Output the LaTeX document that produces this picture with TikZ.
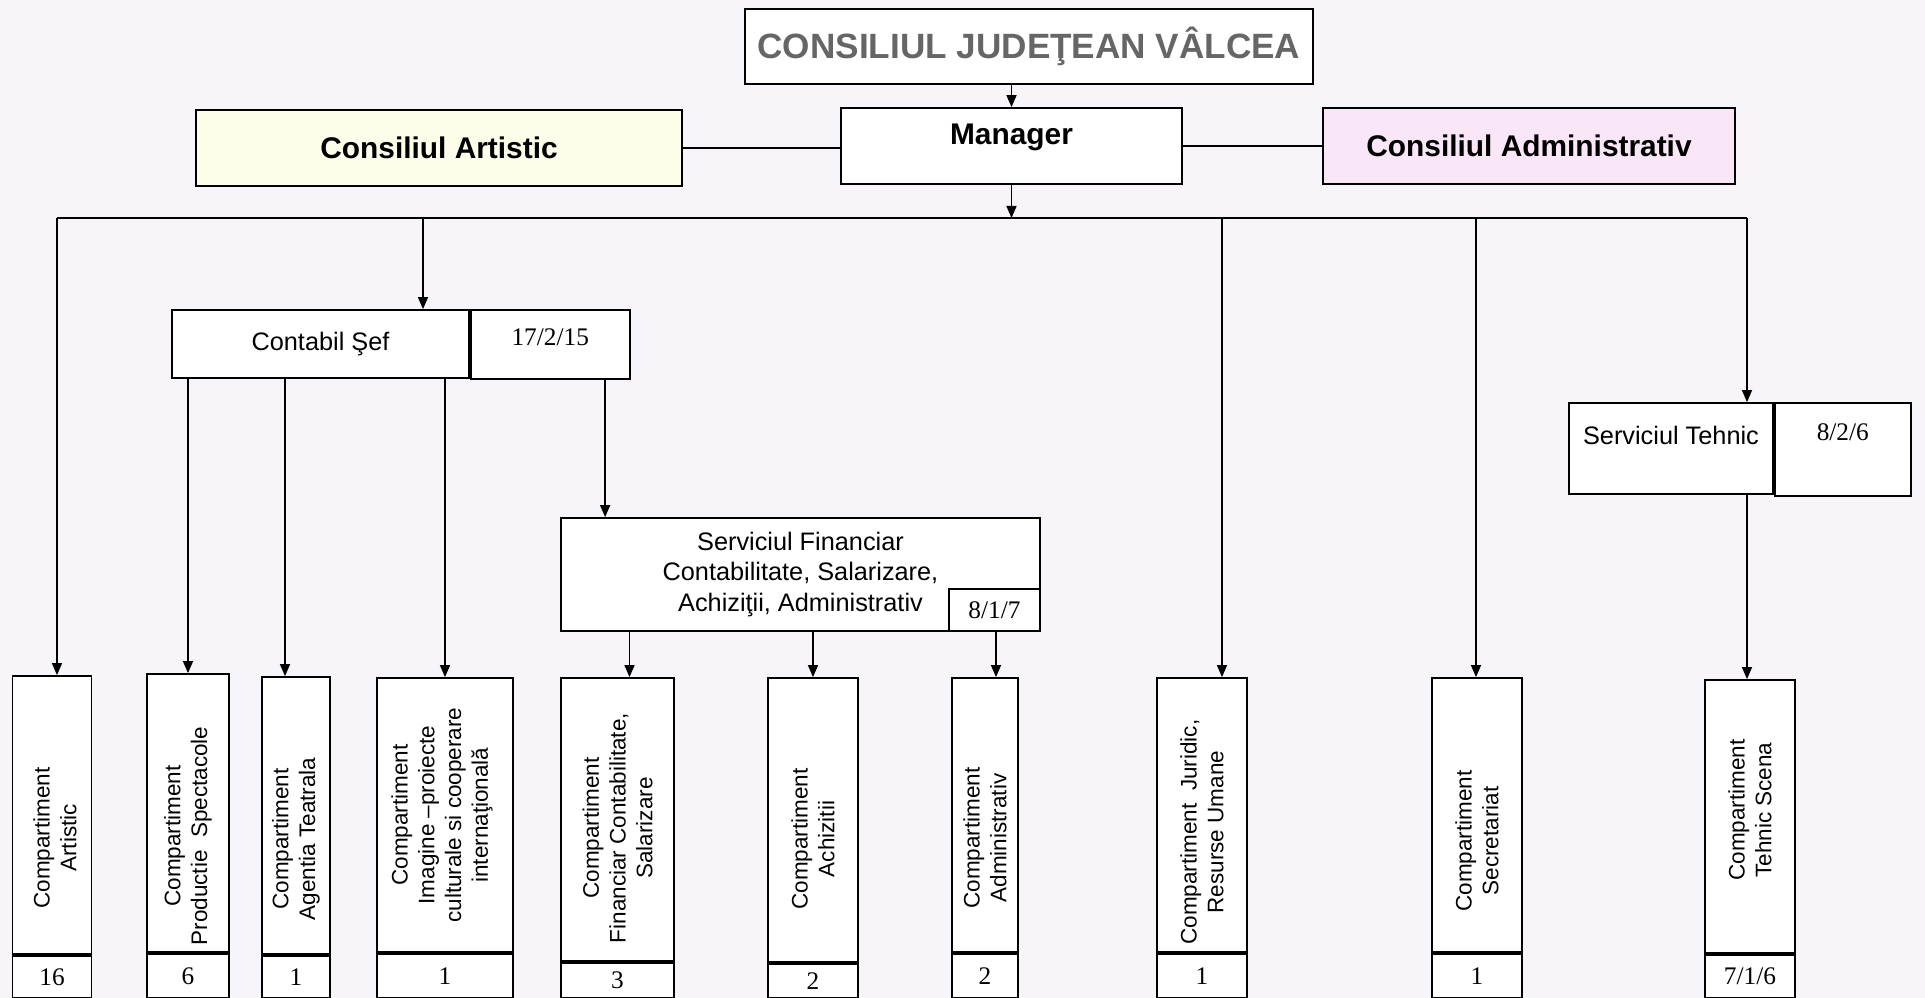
\documentclass[tikz,border=0pt]{standalone}
\usepackage{fontspec}
\setmainfont{Liberation Serif}
\setsansfont{Liberation Sans}
\usetikzlibrary{arrows.meta}

\definecolor{bgcol}{RGB}{248,245,250}
\definecolor{artcol}{RGB}{253,253,234}
\definecolor{admcol}{RGB}{249,230,247}

\begin{document}
\begin{tikzpicture}[x=0.1mm, y=-0.1mm,
  box/.style={draw, line width=0.5pt, fill=white, inner sep=0pt, align=center, font=\sffamily\fontsize{7.2}{8.7}\selectfont},
  head/.style={box, font=\sffamily\bfseries\fontsize{8.5}{10}\selectfont},
  num/.style={box, font=\rmfamily\fontsize{7.2}{8.7}\selectfont},
  toplbl/.style={anchor=north, inner sep=0pt, font=\rmfamily\fontsize{7.2}{8.7}\selectfont},
  vtext/.style={rotate=90, align=center, inner sep=0pt, font=\sffamily\fontsize{6.4}{7.6}\selectfont},
  arr/.style={line width=0.4pt, -{Triangle[length=1.2mm, width=1mm]}},
  conn/.style={line width=0.4pt}]
\fill[bgcol] (0,0) rectangle (1925,998);
\useasboundingbox (0,0) rectangle (1925,998);
% top
\node[head, minimum width=56.8mm, minimum height=7.5mm, text=black!60, font=\sffamily\bfseries\fontsize{10}{12}\selectfont] (cjv) at (1029,46.5) {CONSILIUL JUDEŢEAN VÂLCEA};
\node[head, minimum width=34.1mm, minimum height=7.6mm, text depth=2.4mm] (man) at (1011.5,146) {Manager};
\node[head, fill=artcol, minimum width=48.6mm, minimum height=7.6mm] (cart) at (439,148) {Consiliul Artistic};
\node[head, fill=admcol, minimum width=41.2mm, minimum height=7.6mm] (cadm) at (1529,146) {Consiliul Administrativ};
\draw[arr] (cjv.south -| man) -- (man.north);
\draw[conn] (cart.east) -- (cart.east -| man.west);
\draw[conn] (man.east) -- (cadm.west);
% bus
\coordinate (tart) at (57,218);
\coordinate (tcs) at (423,218);
\coordinate (tjur) at (1222,218);
\coordinate (tsec) at (1476,218);
\coordinate (tteh) at (1747,218);
\draw[arr] (man.south) -- (man.south |- tart);
\draw[conn] (tart) -- (tteh);
% middle
\node[box, minimum width=29.7mm, minimum height=6.8mm] (cs) at (320.5,344) {Contabil Şef};
\node[num, anchor=north west, minimum width=15.9mm, minimum height=6.9mm, label={[toplbl, yshift=-1.85mm]north:17/2/15}] (csnum) at (cs.north east) {};
\node[box, minimum width=47.9mm, minimum height=11.3mm] (sf) at (800.5,574.5) {Serviciul Financiar\\Contabilitate, Salarizare,\\Achiziţii, Administrativ};
\node[num, anchor=south east, minimum width=9.1mm, minimum height=4.2mm] (sfnum) at (sf.south east) {8/1/7};
\node[box, minimum width=20.4mm, minimum height=9.1mm, label={[toplbl, yshift=-2.3mm, font=\sffamily\fontsize{7.2}{8.7}\selectfont]north:Serviciul Tehnic}] (st) at (1671,448.5) {};
\node[num, anchor=north west, minimum width=13.6mm, minimum height=9.3mm, label={[toplbl, yshift=-2.05mm]north:8/2/6}] (stnum) at (st.north east) {};
\draw[arr] (tcs) -- (tcs |- cs.north);
\draw[arr] (tteh) -- (tteh |- st.north);
\coordinate (sfin) at ([xshift=4.5mm]sf.north west);
\draw[arr] (csnum.south -| sfin) -- (sfin);
% bottom row
\node[box, minimum width=7.9mm, minimum height=27.8mm] (art) at (52,815) {};
\node[num, anchor=north, minimum width=7.9mm, minimum height=4.2mm] (artn) at (art.south) {16};
\node[vtext] (artt) at (55,838) {Compartiment\\Artistic};
\node[box, minimum width=8.2mm, minimum height=27.8mm] (prod) at (188,813) {};
\node[num, anchor=north, minimum width=8.2mm, minimum height=4.4mm] (prodn) at (prod.south) {6};
\node[vtext] (prodt) at (188,836) {Compartiment\\Productie\ \ Spectacole};
\node[box, minimum width=6.8mm, minimum height=27.7mm] (agen) at (296,815.5) {};
\node[num, anchor=north, minimum width=6.8mm, minimum height=4.2mm] (agenn) at (agen.south) {1};
\node[vtext] (agent) at (296,839) {Compartiment\\Agentia Teatrala};
\node[box, minimum width=13.6mm, minimum height=27.4mm] (img) at (445,815) {};
\node[num, anchor=north, minimum width=13.6mm, minimum height=4.4mm] (imgn) at (img.south) {1};
\node[vtext] (imgt) at (442,815) {Compartiment\\Imagine –proiecte\\culturale si cooperare\\internaţională};
\node[box, minimum width=11.3mm, minimum height=28.3mm] (fin) at (617.5,819.5) {};
\node[num, anchor=north, minimum width=11.3mm, minimum height=3.5mm] (finn) at (fin.south) {3};
\node[vtext] (fint) at (617.5,828) {Compartiment\\Financiar Contabilitate,\\Salarizare};
\node[box, minimum width=9mm, minimum height=28.4mm] (ach) at (813,820) {};
\node[num, anchor=north, minimum width=9mm, minimum height=3.4mm] (achn) at (ach.south) {2};
\node[vtext] (acht) at (813,839) {Compartiment\\Achizitii};
\node[box, minimum width=6.6mm, minimum height=27.4mm] (adm) at (985,815) {};
\node[num, anchor=north, minimum width=6.6mm, minimum height=4.4mm] (admn) at (adm.south) {2};
\node[vtext] (admt) at (985,838) {Compartiment\\Administrativ};
\node[box, minimum width=9mm, minimum height=27.4mm] (jur) at (1202,815) {};
\node[num, anchor=north, minimum width=9mm, minimum height=4.4mm] (jurn) at (jur.south) {1};
\node[vtext] (jurt) at (1202,832) {Compartiment\ \ Juridic,\\Resurse Umane};
\node[box, minimum width=9mm, minimum height=27.4mm] (sec) at (1477,815) {};
\node[num, anchor=north, minimum width=9mm, minimum height=4.4mm] (secn) at (sec.south) {1};
\node[vtext] (sect) at (1477,841) {Compartiment\\Secretariat};
\node[box, minimum width=9mm, minimum height=27.3mm] (tsc) at (1750,816.5) {};
\node[num, anchor=north, minimum width=9mm, minimum height=4.3mm] (tscn) at (tsc.south) {7/1/6};
\node[vtext] (tsct) at (1750,810) {Compartiment\\Tehnic Scena};
% drops
\draw[arr] (tart) -- (tart |- art.north);
\draw[arr] (cs.south -| prod.north) -- (prod.north);
\coordinate (agenin) at ([xshift=-1.1mm]agen.north);
\draw[arr] (cs.south -| agenin) -- (agenin);
\draw[arr] (cs.south -| img.north) -- (img.north);
\coordinate (finin) at ([xshift=1.2mm]fin.north);
\draw[arr] (sf.south -| finin) -- (finin);
\draw[arr] (sf.south -| ach.north) -- (ach.north);
\coordinate (admtop) at ([xshift=1.1mm]adm.north);
\draw[arr] (sfnum.south -| admtop) -- (admtop);
\draw[arr] (tjur) -- (tjur |- jur.north);
\draw[arr] (tsec) -- (tsec |- sec.north);
\draw[arr] (st.south -| tteh) -- (tteh |- tsc.north);
\end{tikzpicture}
\end{document}
